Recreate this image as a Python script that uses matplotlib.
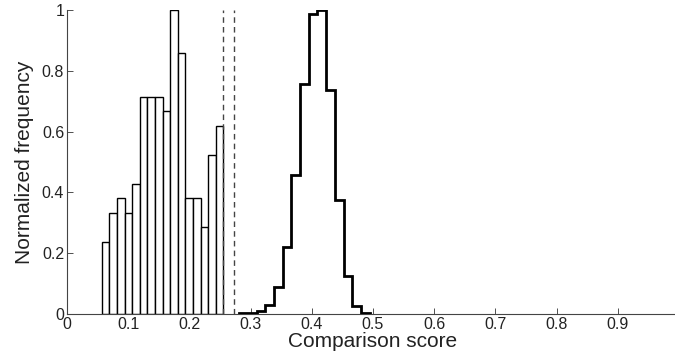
import matplotlib
matplotlib.use("Agg")
import matplotlib.pyplot as plt
import numpy as np

plt.rcParams['font.family'] = ['Liberation Sans', 'DejaVu Sans']

# left histogram: counts per bin (normalized by max)
bar_counts = [5, 7, 8, 7, 9, 15, 15, 15, 14, 21, 18, 8, 8, 6, 11, 13]
bar_start = 0.0567
bar_width = 0.01243

# right histogram drawn as stairs
step_values = [0.002, 0.002, 0.01, 0.03, 0.09, 0.22, 0.456, 0.758, 0.987,
               1.0, 0.736, 0.376, 0.124, 0.026, 0.003]
step_start = 0.2816
step_width = 0.01419

# dashed thresholds
thresholds = [0.2544, 0.2734]

xticks = np.round(np.arange(0, 1.01, 0.1), 1)
xticklabels = ['0', '0.1', '0.2', '0.3', '0.4', '0.5', '0.6', '0.7', '0.8', '0.9', '1']
yticks = [0, 0.2, 0.4, 0.6, 0.8, 1]
yticklabels = ['0', '0.2', '0.4', '0.6', '0.8', '1']

W, H = 675, 359
fig = plt.figure(figsize=(W / 100, H / 100), dpi=100)
ax = fig.add_axes([67 / W, (H - 314) / H, 612 / W, 304 / H])

bar_vals = np.array(bar_counts) / max(bar_counts)
bar_left = bar_start + bar_width * np.arange(len(bar_vals))
ax.bar(bar_left, bar_vals, width=bar_width, align='edge',
       facecolor='white', edgecolor='black', linewidth=1.0, zorder=2)

edges = step_start + step_width * np.arange(len(step_values) + 1)
ax.stairs(step_values, edges, color='black', linewidth=2.0, zorder=3)

for t in thresholds:
    ax.plot([t, t], [0, 1], color='#444444', linestyle=(0, (4, 3)),
            linewidth=1.0, zorder=4, clip_on=False)

ax.set_xlim(0, 1)
ax.set_ylim(0, 1)
ax.set_xticks(xticks)
ax.set_xticklabels(xticklabels)
ax.set_yticks(yticks)
ax.set_yticklabels(yticklabels)
ax.tick_params(direction='in', length=4, width=0.6, labelsize=11.5,
               colors='#333333', labelcolor='#222222', pad=2)
ax.spines[['right', 'top']].set_visible(False)
for s in ['left', 'bottom']:
    ax.spines[s].set_color('#444444')
    ax.spines[s].set_linewidth(0.8)

ax.set_xlabel('Comparison score', fontsize=15, labelpad=0, color='#222222')
ax.set_ylabel('Normalized frequency', fontsize=15, labelpad=6, color='#222222')

fig.savefig('out.png', dpi=100)
